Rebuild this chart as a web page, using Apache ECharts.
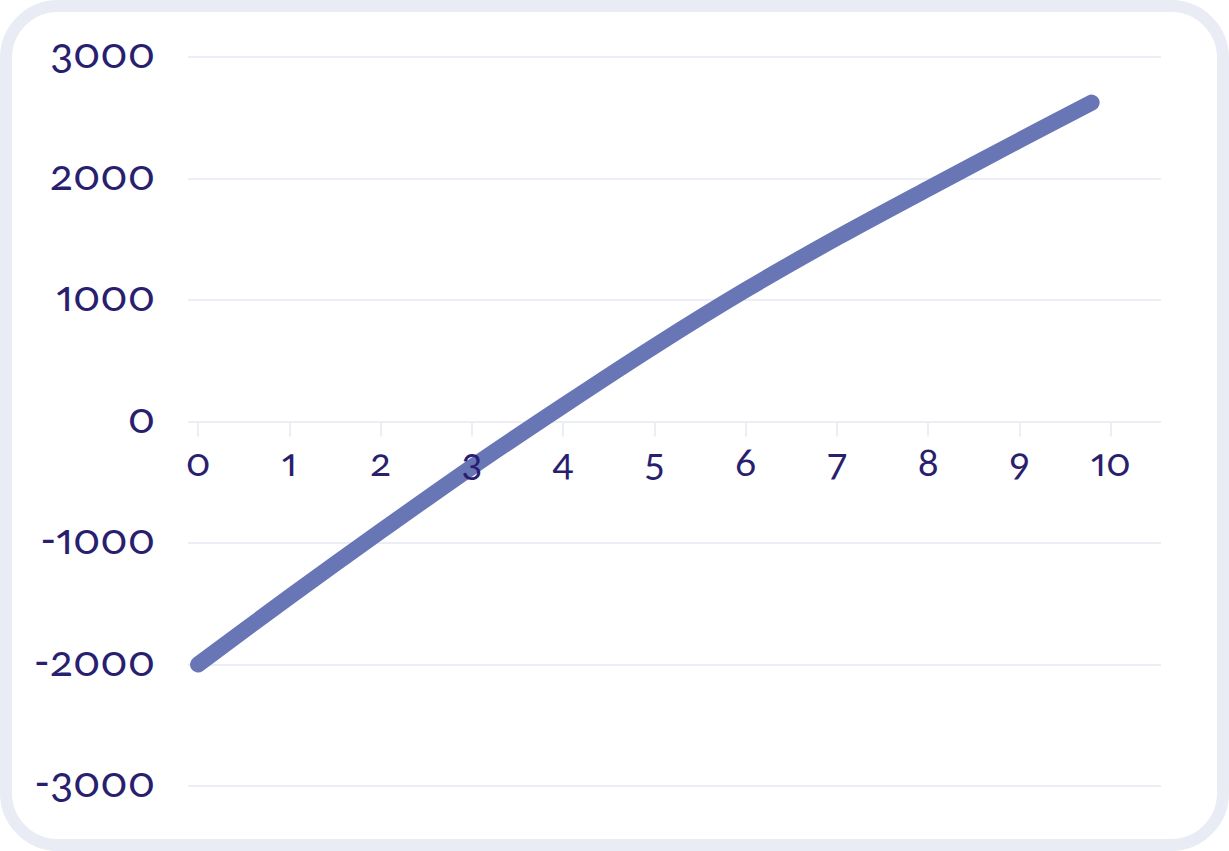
<!DOCTYPE html>
<html>
<head>
<meta charset="utf-8">
<script src="https://cdn.jsdelivr.net/npm/echarts@6/dist/echarts.min.js"></script>
<style>
  html, body { margin: 0; padding: 0; background: #ffffff; }
  #chart { width: 1229px; height: 851px; }
  #chart svg text { font-feature-settings: "onum" 1, "pnum" 1 !important; font-variant-numeric: oldstyle-nums proportional-nums !important; }
</style>
</head>
<body>
<div id="chart"></div>
<script>
// Data
const xValues = [0, 1, 2, 3, 4, 5, 6, 7, 8, 9, 9.79];
const yValues = [-2000, -1445, -904, -375, 130, 620, 1083, 1512, 1917, 2315, 2625];
const xTickValues = [0, 1, 2, 3, 4, 5, 6, 7, 8, 9, 10];

const seriesData = xValues.map((x, i) => [x, yValues[i]]);

const chart = echarts.init(document.getElementById('chart'), null, { renderer: 'svg' });
const textColor = '#2a1f6f';
const gridColor = '#eceef6';
const fontFamily = 'Lato, "Noto Sans", sans-serif';

chart.setOption({
  animation: false,
  backgroundColor: '#ffffff',
  graphic: [{
    type: 'rect',
    z: -10,
    silent: true,
    shape: { x: 6, y: 6, width: 1217, height: 839, r: 52 },
    style: { fill: '#ffffff', stroke: '#e9ecf5', lineWidth: 12 }
  }],
  grid: { left: 188, right: 68, top: 57, bottom: 65 },
  xAxis: {
    type: 'value',
    min: -0.11,
    max: 10.55,
    offset: -364.5,
    z: 5,
    axisLine: { show: false, onZero: false },
    axisTick: { show: true, length: 15, customValues: xTickValues, lineStyle: { color: gridColor, width: 2 } },
    axisLabel: {
      customValues: xTickValues,
      color: textColor,
      fontFamily: fontFamily,
      fontSize: 39,
      margin: 20,
      formatter: (v) => String(v)
    },
    splitLine: { show: false }
  },
  yAxis: {
    type: 'value',
    min: -3000,
    max: 3000,
    interval: 1000,
    axisLine: { show: false },
    axisTick: { show: false },
    axisLabel: {
      color: textColor,
      fontFamily: fontFamily,
      fontSize: 43,
      margin: 33,
      formatter: (v) => '{v|' + v + '}',
      rich: {
        v: {
          color: textColor,
          fontFamily: fontFamily,
          fontSize: 43,
          padding: [0, 0, 11, 0]
        }
      }
    },
    splitLine: { show: true, lineStyle: { color: gridColor, width: 2 } }
  },
  series: [{
    type: 'line',
    data: seriesData,
    smooth: 0.3,
    symbol: 'none',
    z: 2,
    lineStyle: { color: '#6876b6', width: 16, cap: 'round', join: 'round' }
  }]
});
</script>
</body>
</html>
